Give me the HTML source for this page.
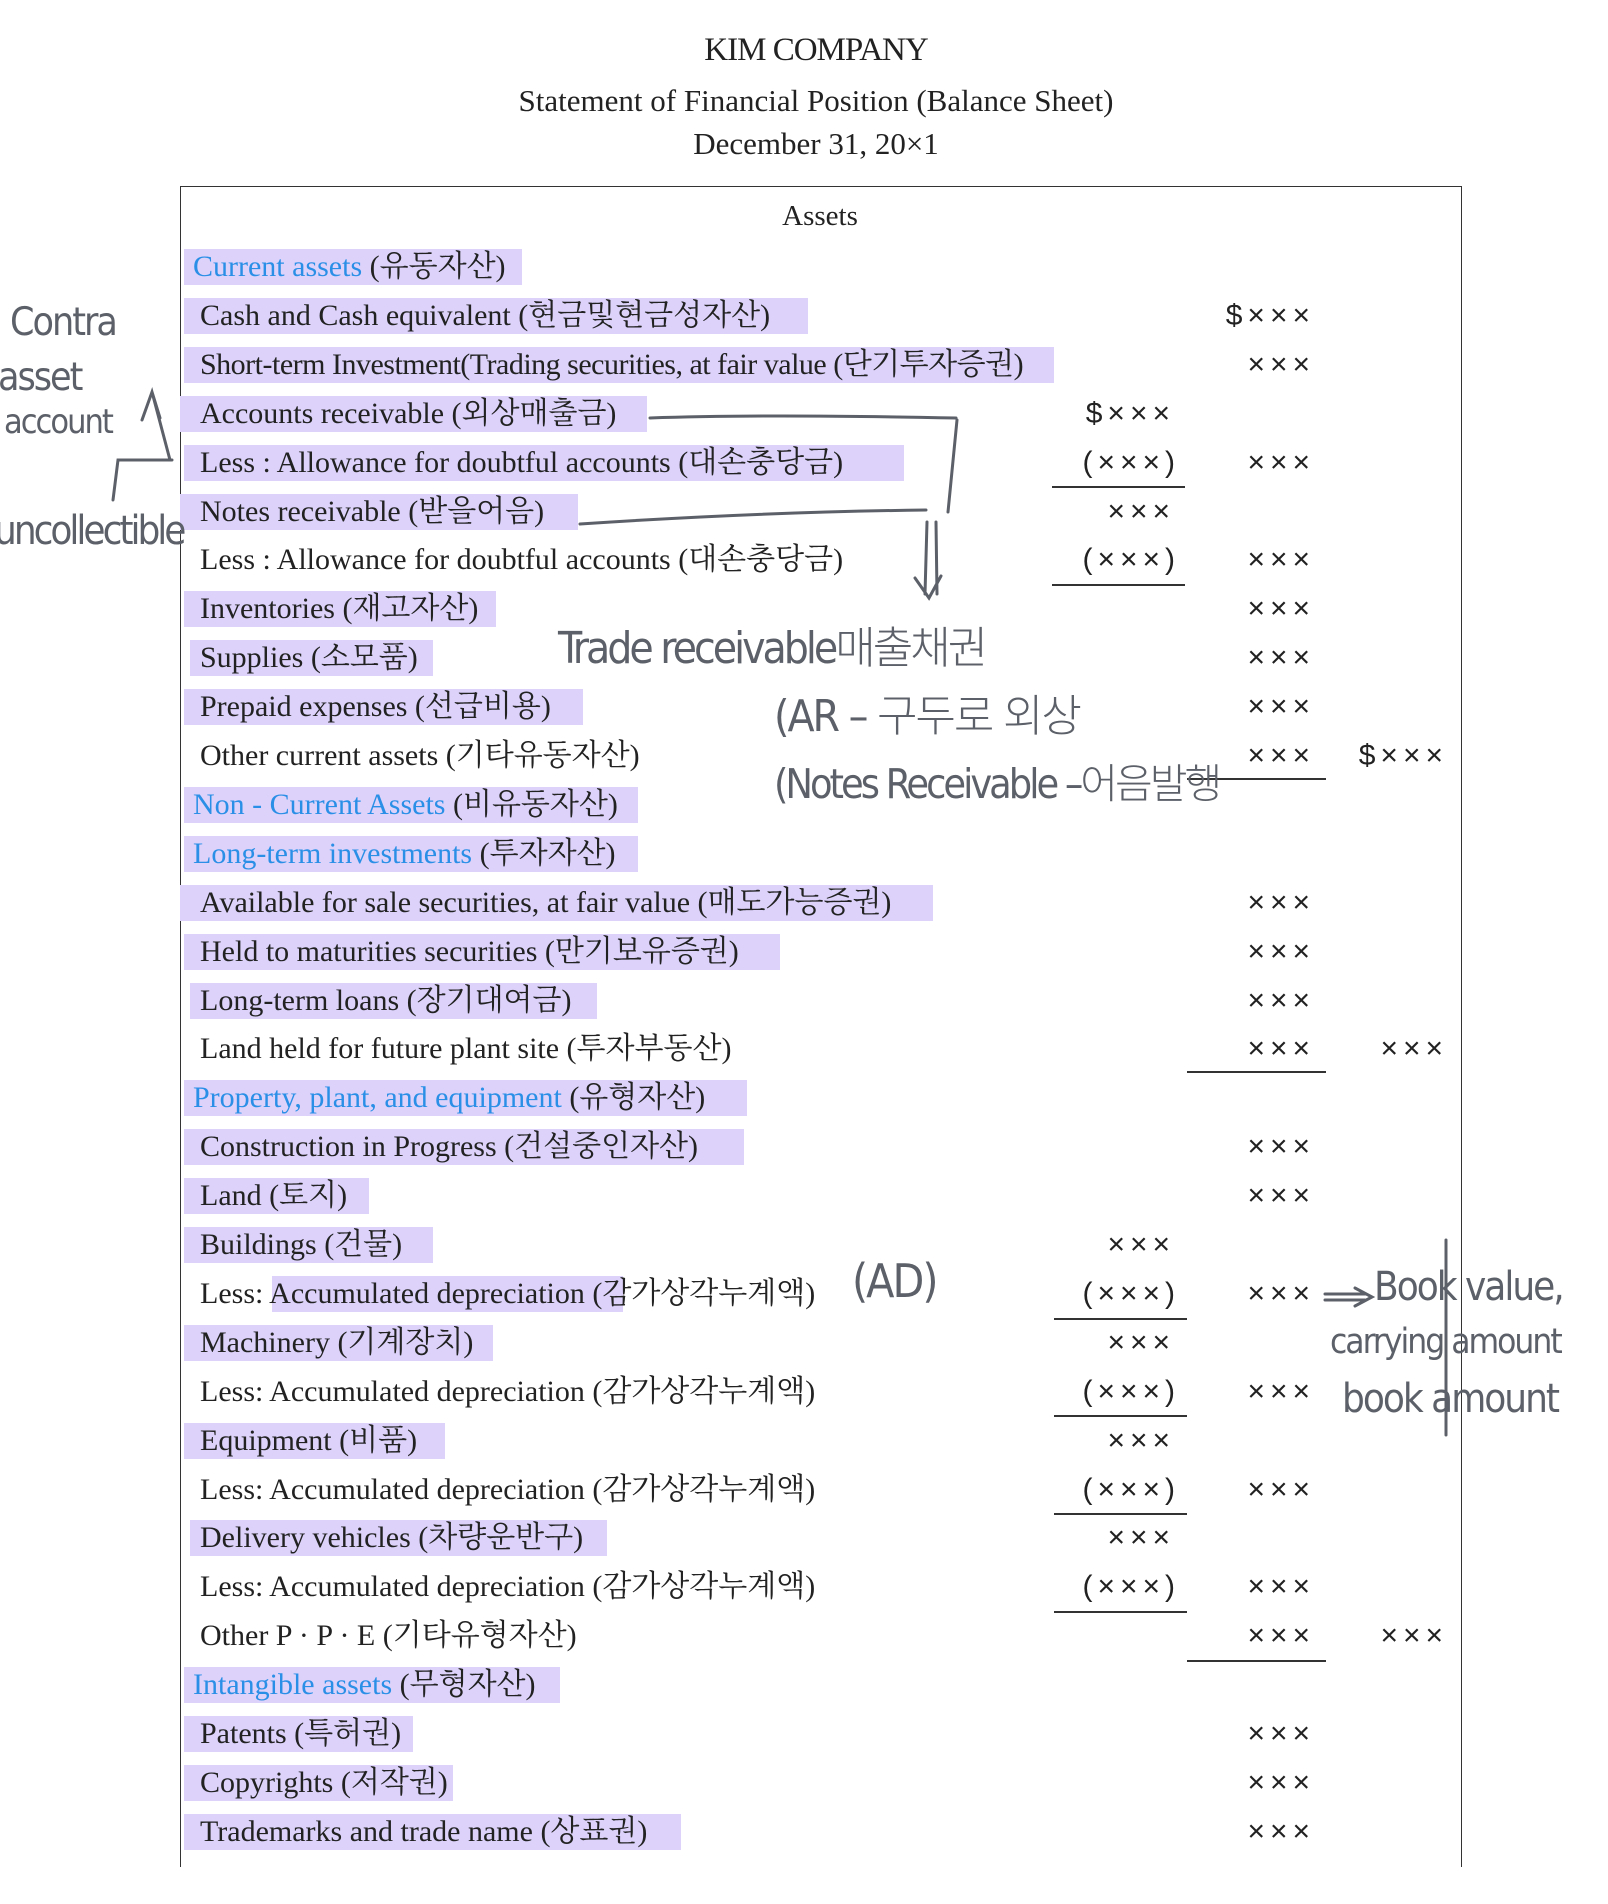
<!DOCTYPE html>
<html><head><meta charset="utf-8"><style>
body{margin:0;width:1608px;height:1904px;background:#fff;position:relative;overflow:hidden;font-family:"Liberation Serif","Noto Serif CJK SC","Noto Sans CJK KR",serif;color:#222}
.t{position:absolute;white-space:nowrap;font-size:30px;line-height:36px}
.h{position:absolute;background:#dcd2fa;height:36px}
.v{position:absolute;white-space:nowrap;font-size:30px;line-height:36px;text-align:right;font-family:"Liberation Sans",sans-serif;letter-spacing:5px}
.b{color:#2a8fe6}
.u{position:absolute;height:2px;background:#333}
.hw{position:absolute;white-space:nowrap;color:#5c6068;font-family:"DejaVu Sans Condensed","DejaVu Sans","Noto Sans CJK KR",sans-serif;font-weight:300;letter-spacing:-2px}
</style></head><body>
<div class="t" style="left:0;width:1632px;text-align:center;top:30px;font-size:33px;line-height:40px;letter-spacing:-1px">KIM COMPANY</div>
<div class="t" style="left:0;width:1632px;text-align:center;top:82px;font-size:31px;line-height:38px">Statement of Financial Position (Balance Sheet)</div>
<div class="t" style="left:0;width:1632px;text-align:center;top:125px;font-size:31px;line-height:38px">December 31, 20×1</div>
<div style="position:absolute;left:180px;top:186px;width:1280px;height:1680px;border:1.5px solid #333;border-bottom:none"></div>
<div class="t" style="left:180px;width:1280px;text-align:center;top:198px;font-size:29px">Assets</div>

<div class="h" style="left:184px;top:249px;width:338px"></div><div class="t" style="left:193px;top:249px"><span class="b">Current assets</span> (유동자산)</div>
<div class="h" style="left:184px;top:298px;width:624px"></div><div class="t" style="left:200px;top:298px">Cash and Cash equivalent (현금및현금성자산)</div>
<div class="h" style="left:184px;top:347px;width:870px"></div><div class="t" style="left:200px;top:347px;letter-spacing:-0.5px">Short-term Investment(Trading securities, at fair value (단기투자증권)</div>
<div class="h" style="left:180px;top:396px;width:467px"></div><div class="t" style="left:200px;top:396px">Accounts receivable (외상매출금)</div>
<div class="h" style="left:184px;top:445px;width:720px"></div><div class="t" style="left:200px;top:445px">Less : Allowance for doubtful accounts (대손충당금)</div>
<div class="h" style="left:180px;top:494px;width:398px"></div><div class="t" style="left:200px;top:494px">Notes receivable (받을어음)</div>
<div class="t" style="left:200px;top:542px">Less : Allowance for doubtful accounts (대손충당금)</div>
<div class="h" style="left:184px;top:591px;width:312px"></div><div class="t" style="left:200px;top:591px">Inventories (재고자산)</div>
<div class="h" style="left:190px;top:640px;width:243px"></div><div class="t" style="left:200px;top:640px">Supplies (소모품)</div>
<div class="h" style="left:184px;top:689px;width:399px"></div><div class="t" style="left:200px;top:689px">Prepaid expenses (선급비용)</div>
<div class="t" style="left:200px;top:738px">Other current assets (기타유동자산)</div>
<div class="h" style="left:184px;top:787px;width:454px"></div><div class="t" style="left:193px;top:787px"><span class="b">Non - Current Assets</span> (비유동자산)</div>
<div class="h" style="left:184px;top:836px;width:454px"></div><div class="t" style="left:193px;top:836px"><span class="b">Long-term investments</span> (투자자산)</div>
<div class="h" style="left:180px;top:885px;width:753px"></div><div class="t" style="left:200px;top:885px">Available for sale securities, at fair value (매도가능증권)</div>
<div class="h" style="left:184px;top:934px;width:596px"></div><div class="t" style="left:200px;top:934px">Held to maturities securities (만기보유증권)</div>
<div class="h" style="left:190px;top:983px;width:407px"></div><div class="t" style="left:200px;top:983px">Long-term loans (장기대여금)</div>
<div class="t" style="left:200px;top:1031px">Land held for future plant site (투자부동산)</div>
<div class="h" style="left:184px;top:1080px;width:563px"></div><div class="t" style="left:193px;top:1080px"><span class="b">Property, plant, and equipment</span> (유형자산)</div>
<div class="h" style="left:184px;top:1129px;width:560px"></div><div class="t" style="left:200px;top:1129px">Construction in Progress (건설중인자산)</div>
<div class="h" style="left:184px;top:1178px;width:185px"></div><div class="t" style="left:200px;top:1178px">Land (토지)</div>
<div class="h" style="left:184px;top:1227px;width:249px"></div><div class="t" style="left:200px;top:1227px">Buildings (건물)</div>
<div class="h" style="left:272px;top:1276px;width:351px"></div><div class="t" style="left:200px;top:1276px">Less: Accumulated depreciation (감가상각누계액)</div>
<div class="h" style="left:184px;top:1325px;width:309px"></div><div class="t" style="left:200px;top:1325px">Machinery (기계장치)</div>
<div class="t" style="left:200px;top:1374px">Less: Accumulated depreciation (감가상각누계액)</div>
<div class="h" style="left:184px;top:1423px;width:261px"></div><div class="t" style="left:200px;top:1423px">Equipment (비품)</div>
<div class="t" style="left:200px;top:1472px">Less: Accumulated depreciation (감가상각누계액)</div>
<div class="h" style="left:190px;top:1520px;width:417px"></div><div class="t" style="left:200px;top:1520px">Delivery vehicles (차량운반구)</div>
<div class="t" style="left:200px;top:1569px">Less: Accumulated depreciation (감가상각누계액)</div>
<div class="t" style="left:200px;top:1618px">Other P · P · E (기타유형자산)</div>
<div class="h" style="left:184px;top:1667px;width:376px"></div><div class="t" style="left:193px;top:1667px"><span class="b">Intangible assets</span> (무형자산)</div>
<div class="h" style="left:184px;top:1716px;width:229px"></div><div class="t" style="left:200px;top:1716px">Patents (특허권)</div>
<div class="h" style="left:184px;top:1765px;width:269px"></div><div class="t" style="left:200px;top:1765px">Copyrights (저작권)</div>
<div class="h" style="left:184px;top:1814px;width:497px"></div><div class="t" style="left:200px;top:1814px">Trademarks and trade name (상표권)</div>

<!-- col2 -->
<div class="v" style="right:293px;top:298px">$×××</div>
<div class="v" style="right:293px;top:347px">×××</div>
<div class="v" style="right:293px;top:445px">×××</div>
<div class="v" style="right:293px;top:542px">×××</div>
<div class="v" style="right:293px;top:591px">×××</div>
<div class="v" style="right:293px;top:640px">×××</div>
<div class="v" style="right:293px;top:689px">×××</div>
<div class="v" style="right:293px;top:738px">×××</div>
<div class="v" style="right:293px;top:885px">×××</div>
<div class="v" style="right:293px;top:934px">×××</div>
<div class="v" style="right:293px;top:983px">×××</div>
<div class="v" style="right:293px;top:1031px">×××</div>
<div class="v" style="right:293px;top:1129px">×××</div>
<div class="v" style="right:293px;top:1178px">×××</div>
<div class="v" style="right:293px;top:1276px">×××</div>
<div class="v" style="right:293px;top:1374px">×××</div>
<div class="v" style="right:293px;top:1472px">×××</div>
<div class="v" style="right:293px;top:1569px">×××</div>
<div class="v" style="right:293px;top:1618px">×××</div>
<div class="v" style="right:293px;top:1716px">×××</div>
<div class="v" style="right:293px;top:1765px">×××</div>
<div class="v" style="right:293px;top:1814px">×××</div>
<!-- col1 -->
<div class="v" style="right:433px;top:396px">$×××</div>
<div class="v" style="right:428px;top:445px">(×××)</div>
<div class="v" style="right:433px;top:494px">×××</div>
<div class="v" style="right:428px;top:542px">(×××)</div>
<div class="v" style="right:433px;top:1227px">×××</div>
<div class="v" style="right:428px;top:1276px">(×××)</div>
<div class="v" style="right:433px;top:1325px">×××</div>
<div class="v" style="right:428px;top:1374px">(×××)</div>
<div class="v" style="right:433px;top:1423px">×××</div>
<div class="v" style="right:428px;top:1472px">(×××)</div>
<div class="v" style="right:433px;top:1520px">×××</div>
<div class="v" style="right:428px;top:1569px">(×××)</div>
<!-- col3 -->
<div class="v" style="right:160px;top:738px">$×××</div>
<div class="v" style="right:160px;top:1031px">×××</div>
<div class="v" style="right:160px;top:1618px">×××</div>
<!-- underlines -->
<div class="u" style="left:1052px;width:133px;top:486px"></div>
<div class="u" style="left:1052px;width:133px;top:584px"></div>
<div class="u" style="left:1187px;width:139px;top:778px"></div>
<div class="u" style="left:1187px;width:139px;top:1071px"></div>
<div class="u" style="left:1054px;width:133px;top:1318px"></div>
<div class="u" style="left:1054px;width:133px;top:1415px"></div>
<div class="u" style="left:1054px;width:133px;top:1513px"></div>
<div class="u" style="left:1054px;width:133px;top:1611px"></div>
<div class="u" style="left:1187px;width:139px;top:1660px"></div>

<svg style="position:absolute;left:0;top:0" width="1608" height="1904">
<g fill="none" stroke="#5c6068" stroke-width="3" stroke-linecap="round">
<path d="M650 418 Q760 414 956 418"/>
<path d="M957 420 L948 512"/>
<path d="M580 524 Q760 512 926 510"/>
<path d="M927 522 L925 594 M936 522 L937 594 M915 578 L929 598 L941 576"/>
<path d="M172 460 L118 460 L113 500"/>
<path d="M170 460 L152 392 L142 420 M152 392 L160 418"/>
<path d="M1325 1294 L1365 1294 M1325 1300 L1365 1300 M1355 1288 L1372 1297 L1355 1306"/>
<path d="M1446 1240 L1446 1435"/>
</g>
</svg>
<div class="hw" style="left:10px;top:300px;font-size:39px">Contra</div>
<div class="hw" style="left:-2px;top:355px;font-size:39px">asset</div>
<div class="hw" style="left:4px;top:402px;font-size:34px">account</div>
<div class="hw" style="left:-6px;top:508px;font-size:40px;letter-spacing:-3px">uncollectible</div>
<div class="hw" style="left:558px;top:612px;font-size:44px;letter-spacing:-3px">Trade receivable매출채권</div>
<div class="hw" style="left:774px;top:680px;font-size:44px">(AR – 구두로 외상</div>
<div class="hw" style="left:774px;top:750px;font-size:41px;letter-spacing:-3px">(Notes Receivable –어음발행</div>
<div class="hw" style="left:852px;top:1254px;font-size:46px">(AD)</div>
<div class="hw" style="left:1374px;top:1264px;font-size:40px">Book value,</div>
<div class="hw" style="left:1330px;top:1322px;font-size:35px">carrying amount</div>
<div class="hw" style="left:1342px;top:1376px;font-size:40px">book amount</div>
</body></html>
